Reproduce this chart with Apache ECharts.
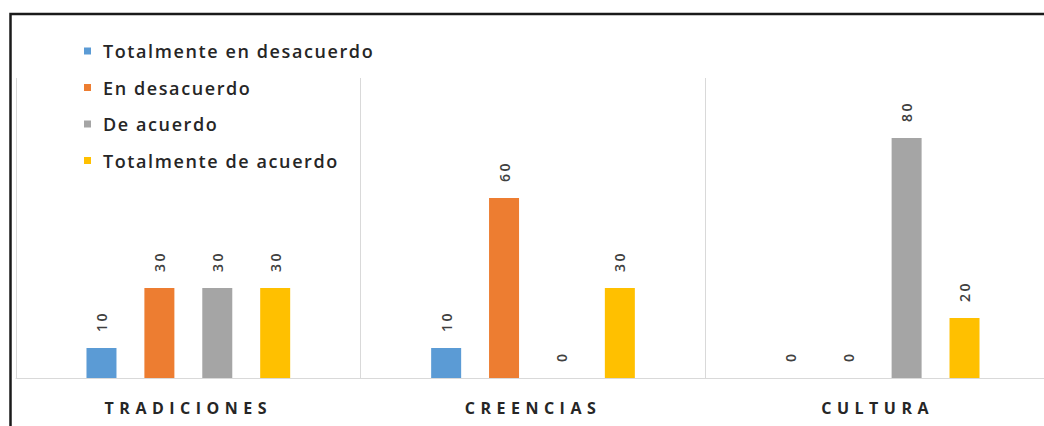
<!DOCTYPE html>
<html><head><meta charset="utf-8">
<script src="https://cdn.jsdelivr.net/npm/echarts@6/dist/echarts.min.js"></script>
<style>html,body{margin:0;padding:0;background:#fff}#c{width:1044px;height:426px}</style>
</head><body><div id="c"></div>
<script>
const categories = ['TRADICIONES', 'CREENCIAS', 'CULTURA'];
const seriesNames = ['Totalmente en desacuerdo', 'En desacuerdo', 'De acuerdo', 'Totalmente de acuerdo'];
const totDesacuerdo = [10, 10, 0];
const enDesacuerdo = [30, 60, 0];
const deAcuerdo = [30, 0, 80];
const totAcuerdo = [30, 30, 20];
const colors = ['#5B9BD5', '#ED7D31', '#A5A5A5', '#FFC000'];
const values = [totDesacuerdo, enDesacuerdo, deAcuerdo, totAcuerdo];

const chart = echarts.init(document.getElementById('c'), null, {renderer: 'svg'});
chart.setOption({
  animation: false,
  color: colors,
  graphic: [{
    type: 'polyline', shape: {points: [[10.5, 440], [10.5, 14], [1100, 14]]},
    style: {fill: 'none', stroke: '#1a1a1a', lineWidth: 2.5}, z: 100
  }],
  legend: {
    orient: 'vertical', left: 79, top: 36,
    itemWidth: 7, itemHeight: 7, itemGap: 16.5, icon: 'rect',
    data: seriesNames,
    textStyle: {fontFamily: 'Open Sans', fontSize: 18, fontWeight: 600, color: '#262626', lineHeight: 20, padding: [0,0,0,7]}
  },
  grid: {left: 16, width: 1034, top: 78, bottom: 48, outerBoundsMode: 'none', containLabel: false},
  xAxis: {
    type: 'category', data: categories,
    axisLine: {lineStyle: {color: '#d9d9d9', width: 1}},
    axisTick: {show: false},
    splitLine: {show: true, lineStyle: {color: '#d9d9d9', width: 1}},
    axisLabel: {fontFamily: 'Open Sans', fontSize: 16, fontWeight: 700, color: '#262626', margin: 22}
  },
  yAxis: {type: 'value', min: 0, max: 100, show: false, splitLine: {show: false}},
  series: seriesNames.map((n, i) => ({
    name: n, type: 'bar', data: values[i], barWidth: 30, barGap: '93%',
    label: {show: true, position: 'top', rotate: 90, align: 'left', verticalAlign: 'middle', distance: 16,
      fontFamily: 'Open Sans', fontSize: 14, fontWeight: 600, color: '#404040'}
  }))
});
function spacing() {
  document.querySelectorAll('#c svg text').forEach(t => {
    const s = t.textContent;
    if (categories.includes(s)) t.style.letterSpacing = '5.5px';
    else if (seriesNames.includes(s)) t.style.letterSpacing = '1.6px';
    else if (/^\d+$/.test(s)) t.style.letterSpacing = '2.5px';
  });
}
chart.on('finished', spacing);
setTimeout(spacing, 50);
spacing();
</script></body></html>
